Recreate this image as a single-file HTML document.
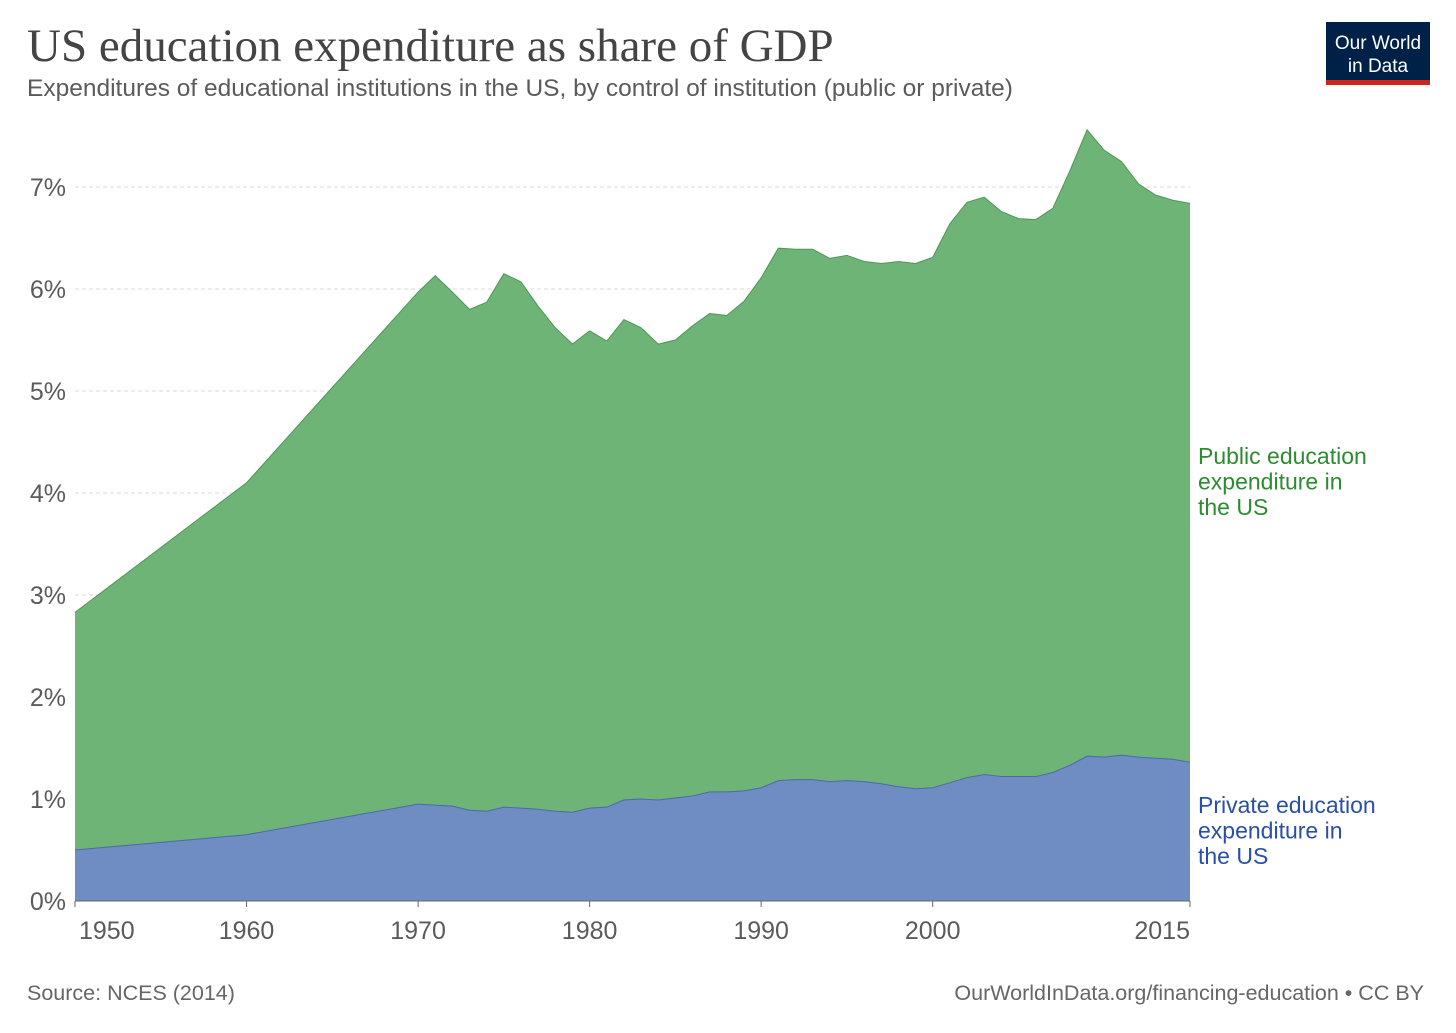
<!DOCTYPE html>
<html><head><meta charset="utf-8"><style>
body{margin:0;background:#fff;width:1456px;height:1028px;overflow:hidden;font-family:"Liberation Sans",sans-serif}
</style></head><body>
<svg width="1456" height="1028" xmlns="http://www.w3.org/2000/svg">
<text x="27" y="61" font-family="Liberation Serif,serif" font-size="47" fill="#444">US education expenditure as share of GDP</text>
<text x="27" y="96" font-size="24.5" fill="#5b5b5b">Expenditures of educational institutions in the US, by control of institution (public or private)</text>
<g>
<rect x="1326" y="22" width="104" height="58" fill="#002147"/>
<rect x="1326" y="80" width="104" height="5" fill="#ce261e"/>
<text x="1378" y="49" font-size="19" fill="#fff" text-anchor="middle">Our World</text>
<text x="1378" y="72" font-size="19" fill="#fff" text-anchor="middle">in Data</text>
</g>
<g id="grid"></g>
<g id="areas"></g>
<g id="xaxis"></g>
<text x="1198" y="464" font-size="23" fill="#2c8c30"><tspan x="1198">Public education</tspan><tspan x="1198" dy="25.5">expenditure in</tspan><tspan x="1198" dy="25.5">the US</tspan></text>
<text x="1198" y="813" font-size="23" fill="#2a4fa8"><tspan x="1198">Private education</tspan><tspan x="1198" dy="25.5">expenditure in</tspan><tspan x="1198" dy="25.5">the US</tspan></text>
<text x="27" y="1000" font-size="21.5" fill="#666">Source: NCES (2014)</text>
<text x="1424" y="1000" font-size="21.5" fill="#666" text-anchor="end">OurWorldInData.org/financing-education • CC BY</text>
</svg>
<script>
const years=[1950,1960,1970,1971,1972,1973,1974,1975,1976,1977,1978,1979,1980,1981,1982,1983,1984,1985,1986,1987,1988,1989,1990,1991,1992,1993,1994,1995,1996,1997,1998,1999,2000,2001,2002,2003,2004,2005,2006,2007,2008,2009,2010,2011,2012,2013,2014,2015];
const privateVals=[0.50,0.65,0.95,0.94,0.93,0.89,0.88,0.92,0.91,0.90,0.88,0.87,0.91,0.92,0.99,1.00,0.99,1.01,1.03,1.07,1.07,1.08,1.11,1.18,1.19,1.19,1.17,1.18,1.17,1.15,1.12,1.10,1.11,1.16,1.21,1.24,1.22,1.22,1.22,1.26,1.33,1.42,1.41,1.43,1.41,1.40,1.39,1.36];
const publicVals=[2.33,3.45,5.02,5.19,5.04,4.91,4.99,5.23,5.16,4.93,4.74,4.59,4.68,4.57,4.71,4.62,4.47,4.49,4.61,4.69,4.67,4.80,5.00,5.22,5.20,5.20,5.13,5.15,5.10,5.10,5.15,5.15,5.20,5.48,5.64,5.66,5.54,5.47,5.46,5.53,5.83,6.14,5.95,5.82,5.62,5.52,5.48,5.48];
const yTicks=[0,1,2,3,4,5,6,7];
const xTicks=[1950,1960,1970,1980,1990,2000,2015];
const NS="http://www.w3.org/2000/svg";
const X=y=>75+(y-1950)*(1190-75)/65;
const Y=v=>901-v*102;
function mk(t,a,p){const e=document.createElementNS(NS,t);for(const k in a)e.setAttribute(k,a[k]);p.appendChild(e);return e;}
const grid=document.getElementById('grid');
yTicks.forEach(v=>{
 if(v>0){const l=mk('line',{x1:75,x2:1190,y1:Y(v),y2:Y(v),stroke:'#d8d8d8','stroke-dasharray':'4,3'},grid);
 
 }
 const t=mk('text',{x:66,y:Y(v)+9,'font-size':25,fill:'#5b5b5b','text-anchor':'end'},grid);
 t.textContent=v+'%';
 
 
});
const areas=document.getElementById('areas');
const totalVals=publicVals.map((p,i)=>p+privateVals[i]);
let pub='',priv='';
years.forEach((y,i)=>{pub+=(i?'L':'M')+X(y)+','+Y(totalVals[i]);priv+=(i?'L':'M')+X(y)+','+Y(privateVals[i]);});
let pubArea=pub;for(let i=years.length-1;i>=0;i--)pubArea+='L'+X(years[i])+','+Y(privateVals[i]);
const a1=mk('path',{d:pubArea+'Z',fill:'#6fb477'},areas);


mk('path',{d:pub,fill:'none',stroke:'#4c9656','stroke-width':1},areas);
const a2=mk('path',{d:priv+'L'+X(2015)+','+Y(0)+'L'+X(1950)+','+Y(0)+'Z',fill:'#6f8dc3'},areas);


mk('path',{d:priv,fill:'none',stroke:'#4a6aa8','stroke-width':1},areas);
const xa=document.getElementById('xaxis');
const ax=mk('line',{x1:75,x2:1190,y1:901,y2:901,stroke:'#666'},xa);


xTicks.forEach((y,i)=>{
 mk('line',{x1:X(y),x2:X(y),y1:901,y2:907,stroke:'#666'},xa);
 const anchor=i==0?'start':(i==xTicks.length-1?'end':'middle');
 const t=mk('text',{x:i==0?X(y)+4:X(y),y:939,'font-size':25,fill:'#5b5b5b','text-anchor':anchor},xa);
 t.textContent=y;
 
 
});
</script>
</body></html>
